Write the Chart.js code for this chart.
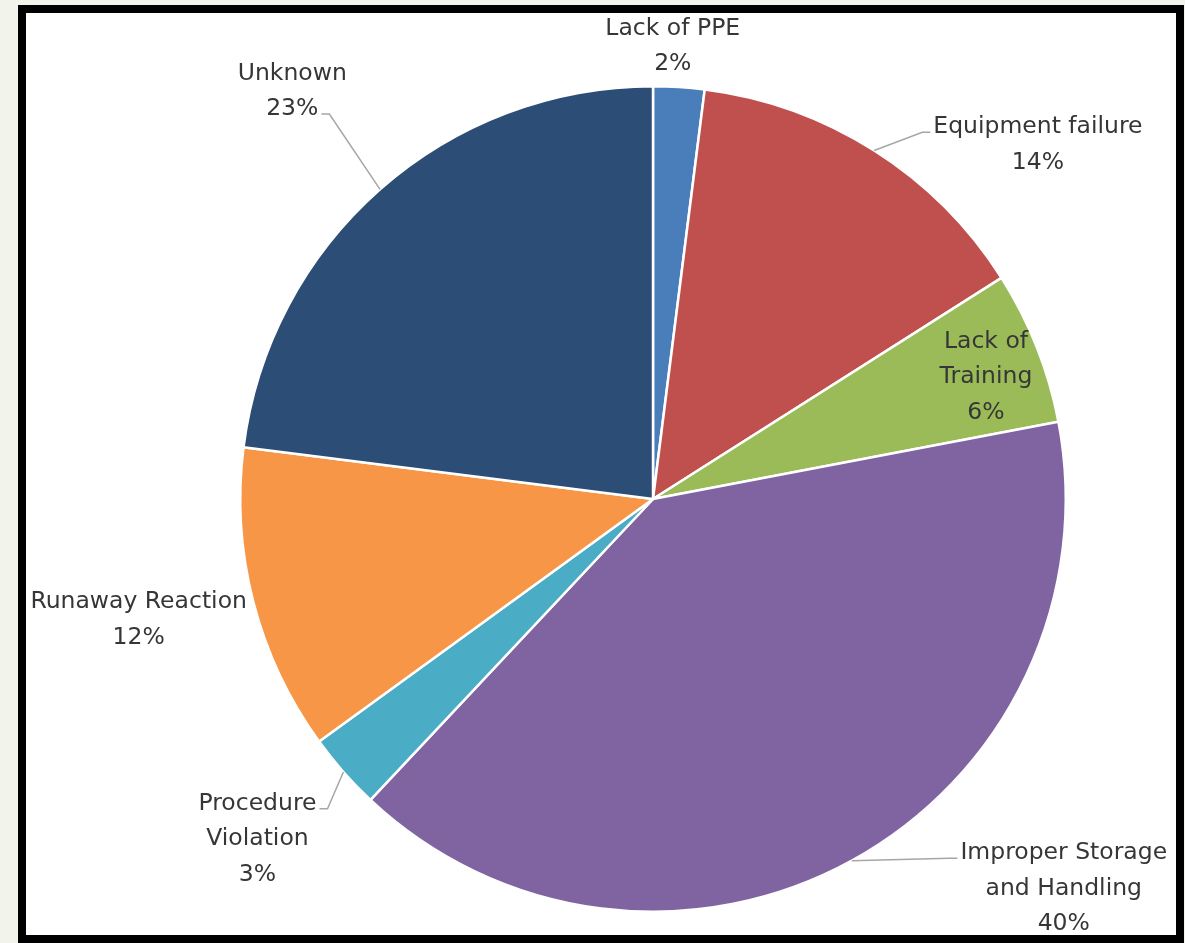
<!DOCTYPE html>
<html>
<head>
<meta charset="utf-8">
<script src="https://cdn.jsdelivr.net/npm/chart.js@4"></script>
<style>
  html, body { margin: 0; padding: 0; }
  body { width: 1185px; height: 943px; background: #f2f3ea; position: relative; overflow: hidden; }
  #frame {
    position: absolute; left: 18px; top: 5px;
    width: 1150px; height: 922px;
    border: 8px solid #000; background: #fff;
  }
  #wrap { position: absolute; left: 0; top: 0; width: 1185px; height: 943px; }
</style>
</head>
<body>
<div id="frame"></div>
<div id="wrap"><canvas id="pie"></canvas></div>
<script>
// ── Data ──
const CATEGORIES = [
  "Lack of PPE",
  "Equipment failure",
  "Lack of Training",
  "Improper Storage and Handling",
  "Procedure Violation",
  "Runaway Reaction",
  "Unknown"
];
const VALUES = [2, 14, 6, 40, 3, 12, 23];
// how each category name wraps in its data label
const LABEL_LINES = [
  ["Lack of PPE"],
  ["Equipment failure"],
  ["Lack of", "Training"],
  ["Improper Storage", "and Handling"],
  ["Procedure", "Violation"],
  ["Runaway Reaction"],
  ["Unknown"]
];

// ── Styling ──
const COLORS = ["#4a7ebb", "#c0504d", "#9bbb59", "#8064a2", "#4bacc6", "#f79646", "#2c4d75"];
// label placement: angle clockwise from 12 o'clock (deg), distance as a share of the radius,
// line the leader line attaches to (-1 = no leader)
const LABEL_PLACE = [
  { a: 2.5,   r: 1.098, leader: -1 },
  { a: 47.4,  r: 1.267, leader: 0 },
  { a: 69.9,  r: 0.859, leader: -1 },
  { a: 133.5, r: 1.372, leader: 0 },
  { a: 229.3, r: 1.264, leader: 0 },
  { a: 256.8, r: 1.280, leader: -1 },
  { a: 318.5, r: 1.319, leader: 1 }
];
const FONT = "23.5px 'DejaVu Sans', sans-serif";
const LINE_H = 35.5;
const TEXT_COLOR = "#363636";

const total = VALUES.reduce((s, v) => s + v, 0);

const labelPlugin = {
  id: "outLabels",
  afterDatasetsDraw(chart) {
    const ctx = chart.ctx;
    const meta = chart.getDatasetMeta(0);
    ctx.save();
    ctx.font = FONT;
    ctx.textAlign = "center";
    ctx.textBaseline = "middle";
    meta.data.forEach((arc, i) => {
      const { x, y, startAngle, endAngle, outerRadius } = arc.getProps(
        ["x", "y", "startAngle", "endAngle", "outerRadius"], true);
      const place = LABEL_PLACE[i];
      const lines = [...LABEL_LINES[i], Math.round((VALUES[i] / total) * 100) + "%"];
      const ang = (place.a * Math.PI) / 180 - Math.PI / 2;
      const cx = x + Math.cos(ang) * outerRadius * place.r;
      const cy = y + Math.sin(ang) * outerRadius * place.r;
      const top = cy - ((lines.length - 1) * LINE_H) / 2;

      if (place.leader >= 0) {
        const mid = (startAngle + endAngle) / 2;
        const px = x + Math.cos(mid) * outerRadius;
        const py = y + Math.sin(mid) * outerRadius;
        const ly = top + place.leader * LINE_H + 5;
        const w = ctx.measureText(lines[place.leader]).width;
        const left = cx < x;
        const ex = left ? cx + w / 2 + 3 : cx - w / 2 - 3;
        const bx = left ? ex + 8 : ex - 8;
        ctx.strokeStyle = "#a6a6a6";
        ctx.lineWidth = 1.5;
        ctx.beginPath();
        ctx.moveTo(px, py);
        ctx.lineTo(bx, ly);
        ctx.lineTo(ex, ly);
        ctx.stroke();
      }

      ctx.fillStyle = TEXT_COLOR;
      lines.forEach((t, k) => ctx.fillText(t, cx, top + k * LINE_H));
    });
    ctx.restore();
  }
};

new Chart(document.getElementById("pie").getContext("2d"), {
  type: "pie",
  data: {
    labels: CATEGORIES,
    datasets: [{
      data: VALUES,
      backgroundColor: COLORS,
      borderColor: "#ffffff",
      borderWidth: 2.5
    }]
  },
  options: {
    responsive: true,
    maintainAspectRatio: false,
    animation: false,
    layout: { padding: { top: 85, bottom: 30, left: 239, right: 118 } },
    plugins: {
      legend: { display: false },
      tooltip: { enabled: false }
    }
  },
  plugins: [labelPlugin]
});
</script>
</body>
</html>
